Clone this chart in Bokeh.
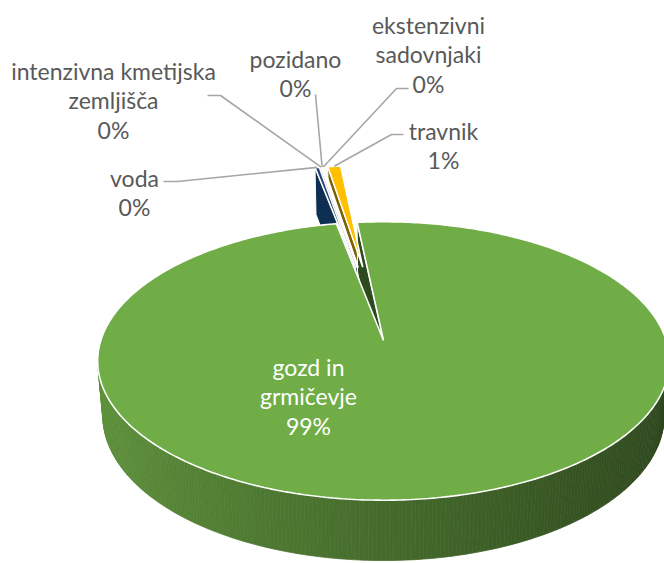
import numpy as np
from bokeh.plotting import figure
from bokeh.models import Range1d
from bokeh.embed import file_html
from bokeh.resources import INLINE
from bokeh.core.properties import value

# ---------------- data ----------------
categories = ["voda", "intenzivna kmetijska zemljišča", "pozidano",
              "ekstenzivni sadovnjaki", "travnik", "gozd in grmičevje"]
shares = [0.30, 0.05, 0.04, 0.06, 0.90, 98.65]          # percent
pct_labels = ["0%", "0%", "0%", "0%", "1%", "99%"]
name_lines = [["voda"], ["intenzivna kmetijska", "zemljišča"], ["pozidano"],
              ["ekstenzivni", "sadovnjaki"], ["travnik"], ["gozd in", "grmičevje"]]
colors = ["#264478", "#4472C4", "#ED7D31", "#A5A5A5", "#FFC000", "#70AD47"]
radial_colors = ["#0F2F52", "#1B2E4E", "#5E3213", "#424242", "#7F6000", "#2E4B1F"]

# ---------------- layout / style ----------------
START_DEG = -11.0
EXPLODE = [0.59, 0.59, 0.59, 0.59, 0.59, 0.0]
F, DIST, ALPHA = 1685.0, 5.96, np.radians(28.8)
CX, CY, DEPTH = 383.0, 340.0, 0.224
SA, CA = np.sin(ALPHA), np.cos(ALPHA)
CAM = np.array([0.0, DIST * SA, -DIST * CA])

# label anchors: (center x, first baseline y), leader start points (label side)
label_pos = [(134, 177), (113, 70), (295, 58), (428, 24), (443, 130), (308, 366)]
leader_start = [[(163, 181), (177, 181)], [(207, 95), (220, 95)], [(315, 94)],
                [(408, 88), (396, 88)], [(403, 134), (391, 134)], None]
LINE_GAP = 29.5
TEXT_COLOR = ["#595959"] * 5 + ["#FFFFFF"]
W, H = 664, 563


def proj(X, Y, Z):
    X, Y, Z = np.asarray(X, float), np.asarray(Y, float), np.asarray(Z, float)
    yc = Y * CA + Z * SA
    zc = DIST + Z * CA - Y * SA
    return CX + F * X / zc, CY - F * yc / zc


def hex2rgb(h):
    h = h.lstrip("#")
    return [int(h[k:k + 2], 16) for k in (0, 2, 4)]


def shade(h, k):
    return "#%02x%02x%02x" % tuple(int(max(0, min(255, round(v * k)))) for v in hex2rgb(h))


walls, tops, anchors = [], [], []
cum = 0.0
for i, s in enumerate(shares):
    t1 = np.radians(START_DEG + 3.6 * cum)
    cum += s
    t2 = np.radians(START_DEG + 3.6 * cum)
    bis = 0.5 * (t1 + t2)
    e = EXPLODE[i]
    ax, az = e * np.sin(bis), e * np.cos(bis)
    n = max(2, int(np.ceil(np.degrees(t2 - t1) / 0.75)) + 1)
    ts = np.linspace(t1, t2, n)
    rx, rz = ax + np.sin(ts), az + np.cos(ts)

    # top face
    X = np.concatenate([[ax], rx]); Z = np.concatenate([[az], rz])
    sx, sy = proj(X, np.zeros_like(X), Z)
    cen = np.array([X.mean(), 0.0, Z.mean()])
    tops.append((np.linalg.norm(CAM - cen), list(sx), list(sy), colors[i]))
    ax_s, ay_s = proj([ax + np.sin(bis)], [0.0], [az + np.cos(bis)])
    anchors.append((float(ax_s[0]), float(ay_s[0])))

    # outer wall
    for j in range(n - 1):
        tm = 0.5 * (ts[j] + ts[j + 1])
        mid = np.array([ax + np.sin(tm), -DEPTH / 2, az + np.cos(tm)])
        nrm = np.array([np.sin(tm), 0.0, np.cos(tm)])
        if nrm @ (CAM - mid) <= 0:
            continue
        qx = [rx[j], rx[j + 1], rx[j + 1], rx[j]]
        qy = [0, 0, -DEPTH, -DEPTH]
        qz = [rz[j], rz[j + 1], rz[j + 1], rz[j]]
        px, py = proj(qx, qy, qz)
        walls.append((np.linalg.norm(CAM - mid), list(px), list(py),
                      shade(colors[i], 0.62 - 0.22 * np.sin(tm)), 0))

    # radial faces
    for t, nrm in ((t1, np.array([-np.cos(t1), 0, np.sin(t1)])),
                   (t2, np.array([np.cos(t2), 0, -np.sin(t2)]))):
        ex, ez = ax + np.sin(t), az + np.cos(t)
        mid = np.array([(ax + ex) / 2, -DEPTH / 2, (az + ez) / 2])
        if nrm @ (CAM - mid) <= 0:
            continue
        px, py = proj([ax, ex, ex, ax], [0, 0, -DEPTH, -DEPTH], [az, ez, ez, az])
        walls.append((np.linalg.norm(CAM - mid), list(px), list(py), radial_colors[i], 1))

walls.sort(key=lambda w: -w[0])
tops.sort(key=lambda t: -t[0])

p = figure(width=W, height=H, x_range=Range1d(0, W), y_range=Range1d(H, 0),
           toolbar_location=None, output_backend="svg", min_border=0)
p.axis.visible = False
p.grid.visible = False
p.outline_line_color = None
p.background_fill_color = "white"

for w in walls:
    if w[4] == 0:
        p.patch(w[1], w[2], fill_color=w[3], line_color=w[3], line_width=0.7)
    else:
        p.patch(w[1], w[2], fill_color=w[3], line_color="white", line_width=1.0)

p.patches([t[1] for t in tops], [t[2] for t in tops], fill_color=[t[3] for t in tops],
          line_color="white", line_width=1.6)

# leader lines
for i in range(len(categories)):
    if leader_start[i] is None:
        continue
    pts = list(leader_start[i]) + [anchors[i]]
    p.line([q[0] for q in pts], [q[1] for q in pts], line_color="#A6A6A6", line_width=1.6)

# labels
tx, ty, tt, tc = [], [], [], []
for i in range(len(categories)):
    lines = name_lines[i] + [pct_labels[i]]
    x0, y0 = label_pos[i]
    for k, ln in enumerate(lines):
        tx.append(x0); ty.append(y0 + k * LINE_GAP); tt.append(ln); tc.append(TEXT_COLOR[i])
p.text(tx, ty, text=tt, text_color=tc, text_align="center", text_baseline="alphabetic",
       text_font=value("Lato"), text_font_size="23px")

open("out.html", "w").write(file_html(p, INLINE))
